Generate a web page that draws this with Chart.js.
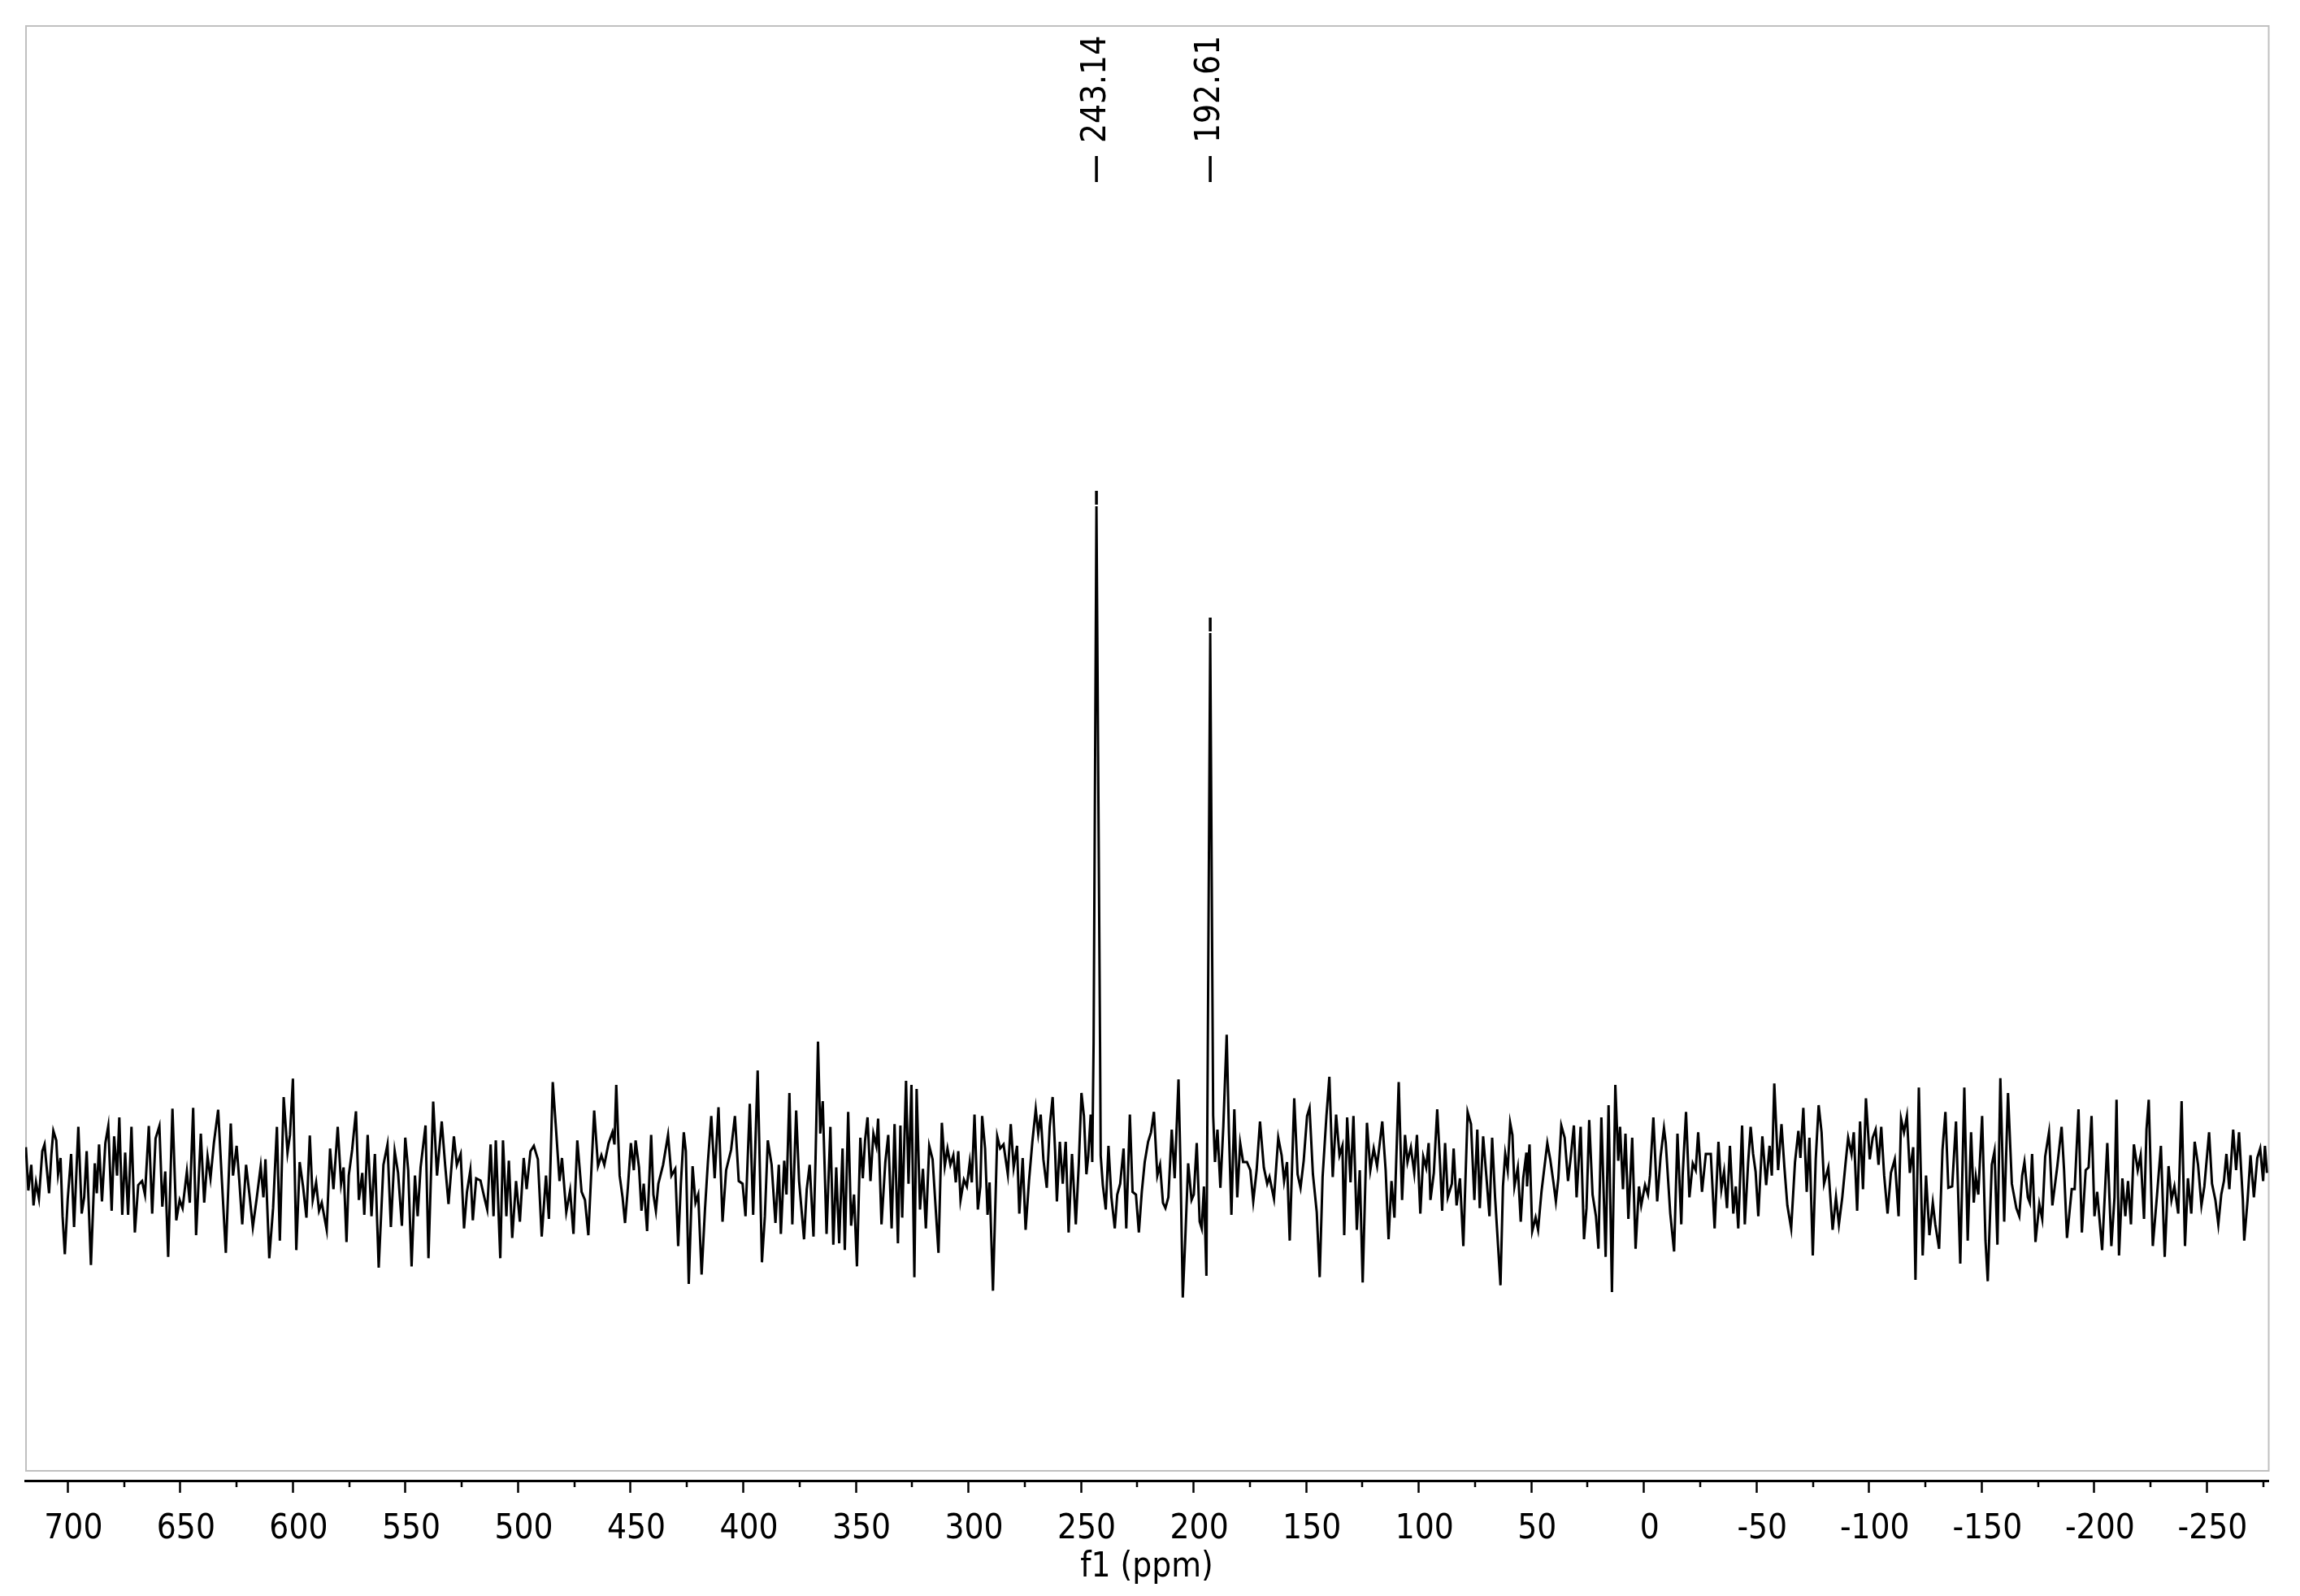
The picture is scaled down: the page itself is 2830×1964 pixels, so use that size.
<!DOCTYPE html>
<html>
<head>
<meta charset="utf-8">
<title>f1 spectrum</title>
<script src="https://cdn.jsdelivr.net/npm/chart.js@4.4.1/dist/chart.umd.min.js"></script>
<style>
  html, body { margin: 0; padding: 0; background: #fff; }
  canvas { display: block; }
</style>
</head>
<body>
<canvas id="spectrum" width="2830" height="1964" style="width:2830px;height:1964px"></canvas>
<script>
// chemical shift (ppm) and intensity (arbitrary units)
const shiftPpm = [
  718.6, 717.5, 716.2, 715.2, 714.1, 712.8, 711.3, 710.3, 709.2, 708.3,
  707.3, 706.4, 705.1, 704.3, 703.2, 702.3, 701.3, 700.0, 698.5, 697.2,
  695.3, 693.8, 692.7, 691.6, 691.0, 689.7, 688.0, 687.1, 686.1, 684.8,
  683.3, 682.0, 680.5, 679.4, 678.1, 677.1, 675.8, 674.5, 673.2, 671.7,
  670.2, 668.7, 667.0, 665.7, 664.0, 662.5, 661.0, 659.3, 658.0, 656.7,
  655.4, 653.5, 651.8, 650.3, 649.0, 647.1, 645.8, 644.3, 643.0, 640.9,
  639.4, 637.9, 636.6, 635.1, 633.2, 631.5, 629.8, 627.6, 626.6, 625.0,
  623.8, 622.5, 620.8, 619.3, 617.8, 616.1, 614.3, 613.1, 612.2, 610.5,
  608.8, 607.1, 605.8, 604.1, 602.4, 601.3, 600.0, 598.5, 597.0, 595.5,
  594.0, 592.5, 591.2, 589.7, 588.4, 587.2, 585.0, 583.5, 582.0, 580.1,
  578.6, 577.5, 576.2, 575.2, 573.7, 572.0, 570.7, 569.2, 568.3, 566.8,
  565.1, 563.6, 561.9, 559.8, 558.0, 556.5, 554.8, 553.3, 551.6, 550.1,
  548.8, 547.3, 545.8, 544.6, 543.3, 541.1, 539.8, 537.7, 536.0, 533.9,
  532.4, 530.9, 528.5, 527.2, 525.5, 524.0, 522.7, 521.2, 520.1, 518.6,
  516.7, 515.0, 513.7, 512.2, 510.9, 509.9, 507.9, 506.7, 505.2, 504.1,
  502.6, 500.9, 499.2, 497.5, 496.2, 494.5, 493.0, 491.2, 489.5, 487.6,
  486.3, 484.6, 483.3, 481.6, 480.5, 478.6, 476.9, 475.4, 473.7, 471.8,
  470.3, 468.8, 466.2, 464.5, 463.0, 461.7, 459.8, 458.1, 457.2, 456.4,
  454.9, 453.6, 452.5, 451.2, 449.9, 448.6, 447.8, 446.3, 445.2, 444.2,
  442.7, 440.9, 439.9, 438.8, 437.7, 435.6, 433.4, 431.9, 430.2, 428.9,
  427.7, 426.4, 425.5, 424.2, 422.5, 421.2, 420.0, 418.5, 417.0, 415.7,
  414.2, 412.7, 411.0, 409.2, 407.6, 405.4, 403.7, 402.0, 400.3, 399.0,
  397.1, 395.6, 393.6, 391.7, 390.4, 389.1, 387.4, 385.7, 384.2,
  383.3, 381.8, 380.8, 379.5, 378.2, 376.5, 375.2, 373.0, 371.8, 370.5,
  368.8, 367.9, 366.8, 365.8, 364.7, 363.0, 361.3, 360.0, 358.7, 357.4,
  355.9, 354.9, 353.4, 352.1, 350.8, 349.5, 348.0, 346.9, 345.9, 344.8,
  343.5, 342.2, 340.9, 340.1, 338.6, 336.9, 335.6, 334.1, 332.8, 331.3,
  330.2, 329.4, 327.7, 326.6, 325.3, 324.0, 323.0, 321.5, 320.2, 318.9,
  317.4, 315.9, 313.3, 311.8, 310.5, 309.3, 308.0, 306.7, 305.6, 304.5,
  303.5, 302.0, 300.7, 299.4, 298.5, 297.3, 295.8, 294.7, 293.9, 292.6,
  291.5, 290.6, 289.1, 287.2, 285.9, 284.4, 282.5, 281.2, 279.9, 278.4,
  277.4, 275.9, 274.6, 273.1, 271.6, 270.1, 269.0, 267.9, 266.7, 265.2,
  263.9, 262.6, 261.5, 260.7, 259.4, 258.1, 256.8, 255.5, 254.0, 252.3,
  251.0, 249.8, 248.7, 247.6, 246.8, 245.7, 245.0, 244.4, 243.14, 241.55,
  241.25, 240.3, 239.0, 237.8, 236.5, 235.0, 233.9, 232.6, 231.1, 229.9,
  228.3, 227.1, 225.6, 224.3, 223.0, 221.7, 220.2, 218.9, 217.6, 216.1,
  214.9, 213.6, 212.5, 211.2, 209.7, 208.4, 206.7, 205.9, 204.8, 203.7,
  202.4, 200.9, 199.9, 198.6, 197.3, 196.4, 195.4, 194.3, 193.7, 192.61,
  191.3, 190.5, 189.4, 188.1, 186.8, 185.3, 184.3, 183.2, 181.9, 180.6,
  179.3, 178.0, 176.3, 174.8, 173.5, 172.0, 170.5, 168.8, 167.3, 166.3,
  164.3, 162.4, 160.9, 159.8, 158.5, 157.3, 155.3, 153.8, 152.5, 151.1,
  149.6, 148.5, 147.0, 145.3, 144.0, 142.7, 141.0, 139.7, 138.2, 136.7,
  135.2, 133.9, 133.1, 131.8, 130.3, 129.0, 127.5, 126.2, 124.9, 123.0,
  121.5, 120.0, 118.5, 116.2, 114.7, 113.4, 112.1, 110.8, 108.9, 107.4,
  106.1, 105.0, 103.5, 102.0, 100.8, 99.3, 98.0, 96.7, 95.6, 94.8,
  93.3, 91.8, 90.5, 89.6, 88.3, 87.1, 85.3, 84.5, 83.2, 81.7,
  80.2, 78.3, 76.8, 75.3, 74.0, 72.9, 71.4, 69.9, 68.6, 67.4,
  66.1, 63.7, 62.6, 61.6, 60.5, 59.4, 58.4, 57.5, 56.0, 54.7,
  53.6, 52.2,
  51.9, 50.8, 49.6, 48.1, 47.0, 45.5, 42.9, 41.6, 40.1, 39.1,
  38.0, 36.7, 35.2, 33.7, 32.6, 31.1, 29.9, 28.1, 26.6, 25.5,
  24.3, 22.8, 21.3, 20.2, 18.9, 17.0, 15.7, 14.2, 12.7, 11.4,
  10.6, 9.3, 8.2, 6.9, 5.2, 3.7, 2.2, 1.2, -0.5, -1.8,
  -2.7, -4.2, -5.9, -7.4, -8.9, -9.7, -11.7, -13.4, -14.9, -16.6,
  -17.2, -18.7, -20.2, -21.7, -23.0, -24.1, -25.8, -27.5, -29.7, -31.4,
  -33.1, -34.4, -35.6, -36.9, -38.2, -39.7, -40.8, -41.9, -43.6, -44.8,
  -46.3, -47.4, -48.5, -49.6, -50.8, -52.6, -54.3, -55.8, -56.8, -57.9,
  -59.6, -61.1, -62.4, -63.7, -65.4, -67.1, -68.6, -69.5, -70.8, -72.3,
  -73.5, -75.0, -76.3, -77.6, -78.9, -80.0, -81.9, -83.8, -85.3, -86.6,
  -88.1, -89.6, -90.7, -92.2, -93.2, -94.7, -96.0, -97.3, -98.6, -100.3,
  -101.6, -102.9, -104.2, -105.4, -106.7, -108.2, -109.7, -111.4, -113.1, -114.2,
  -115.5, -116.8, -118.1, -119.6, -120.6, -122.1, -123.8, -125.3, -126.8, -128.3,
  -129.4, -131.1, -132.6, -133.9, -135.2, -136.9, -138.6, -140.5, -142.3, -143.8,
  -145.3, -146.5, -147.4, -148.5, -150.2, -151.7, -152.7, -154.5, -155.7, -157.0,
  -158.3, -160.0, -161.7, -163.4, -165.4, -166.7, -168.0, -169.0, -170.5, -171.4,
  -172.4, -173.9, -175.6, -176.9, -178.2, -179.9, -181.4, -183.6, -185.5, -186.6,
  -187.9, -190.0, -191.3, -193.0, -194.5, -196.2, -197.5, -198.8, -200.1, -201.3,
  -203.5, -205.8, -207.6, -209.0, -209.9, -211.0, -212.5, -213.8, -215.0, -216.3,
  -217.6, -219.3, -220.6, -222.1, -223.2, -224.2, -226.0, -227.9, -229.6, -231.3,
  -233.0, -234.3, -235.6, -237.3, -238.8, -240.3, -241.6, -243.1, -244.6, -246.1,
  -247.6, -248.9, -251.0, -252.3, -253.8, -255.1, -256.4, -257.6, -258.7, -260.0,
  -261.7, -263.0, -264.3, -266.0, -266.6, -268.1, -269.4, -270.9, -272.4, -273.7,
  -275.0, -275.8, -276.7
];

const intensity = [
  85, -75, 20, -130, -45, -105, 70, 95, -5, -85,
  55, 145, 110, -15, 45, -170, -310, -105, 60, -210,
  160, -160, -100, 70, -60, -350, 25, -85, 95, -115,
  100, 163, -150, 125, -20, 195, -165, 65, -165, 160,
  -230, -55, -40, -90, 163, -160, 117, 163, -135, -5,
  -320, 227, -185, -110, -140, -5, -120, 230, -240, 135,
  -120, 50, -30, 100, 223, -45, -305, 172, -20, 90,
  -40, -200, 20, -90, -210, -105, 15, -100, 40, -325,
  -140, 160, -260, 270, 65, 130, 338, -295, 30, -60,
  -175, 128, -110, -45, -150, -120, -220, 80, -70, 160,
  -50, 10, -265, -20, 75, 217, -110, -10, -165, 130,
  -170, 60, -360, 20, 95, -210, 70, -10, -205, 120,
  0, -355, -20, -170, 10, 165, -325, 253, -20, 180,
  20, -125, 125, 20, 60, -215, -80, 0, -185, -30,
  -38, -100, -145, 95, -170, 110, -325, 110, -170, 35,
  -250, -40, -190, 45, -70, 70, 90, 40, -245, -20,
  -180, 325, 170, -40, 45, -155, -75, -235, 110, -80,
  -110, -240, 220, 15, 55, 20, 100, 140, 95, 315,
  -20, -100, -195, -60, 100, 0, 110, 10, -150, -50,
  -225, 130, -90, -150, -50, 20, 130, -20, 5, -280,
  -50, 140, 70, -420, 15, -120, -90, -385, -145, 30,
  200, -30, 232, -190, 0, 75, 200, -40, -50, -170,
  245, -165, 368, -340, -170, 110, 20, -195, 20,
  -235, 35, -90, 285, -200, 220, -40, -255, -70, 20,
  -245, 40, 475, 135, 255, -235, 160, -275, 10, -270,
  80, -295, 215, -205, -90, -355, 120, -30, 110, 195,
  -40, 135, 90, 190, -200, 30, 130, -215, 170, -270,
  165, -175, 330, -50, 315, -395, 300, -145, 5, -215,
  90, 40, -305, 175, 15, 80, 20, 55, -45, 70,
  -110, -35, -60, 30, -45, 205, -145, -60, 200, 80,
  -165, -45, -445, 125, 80, 95, -15, 170, 10, 90,
  -160, 45, -220, -40, 105, 225, 135, 205, 40, -65,
  160, 270, 70, -115, 105, -50, 105, -230, 60, -200,
  20, 285, 200, -15, 50, 205, 30, 471, 2451, 480,
  54, -55, -145, 90, -100, -215, -90, -50, 80, -215,
  205, -80, -90, -230, -80, 30, 105, 140, 215, -20,
  20, -120, -140, -100, 150, -30, 335, 50, -470, -255,
  25, -110, -90, 100, -190, -215, -60, -390, 429, 1983,
  201, 30, 150, -65, 160, 500, 140, -165, 225, -100,
  100, 30, 30, 0, -115, 0, 180, 10, -50, -25,
  -105, 120, 55, -40, 30, -260, 265, -15, -65, 35,
  200, 230, -15, -155, -395, -25, 200, 345, -25, 205,
  55, 90, -240, 195, -45, 200, -220, 0, -415, 175,
  0, 80, 15, 180, 0, -255, -40, -175, 325, -110,
  130, 30, 85, -10, 130, -160, 50, 10, 100, -110,
  -10, 225, 20, -150, 100, -100, -50, 80, -130, -30,
  -280, 215, 170, -110, 150, -140, 125, -30, -170, 120,
  -100, -425, -60, 60, 0, 175, 130, -60, 10, -190,
  -30, 65,
  -60, 95, -225, -175, -220, -80, 100, 40, -50, -115,
  -30, 165, 120, -40, 40, 165, -100, 160, -255, -140,
  185, -90, -170, -290, 195, -320, 240, -450, 315, 35,
  160, -70, 135, -180, 120, -290, -60, -130, -55, -90,
  -20, 195, -115, 50, 155, 100, -160, -300, 135, -200,
  -20, 215, -100, 25, 0, 140, -80, 60, 60, -215,
  105, -70, -5, -140, 90, -160, -60, -215, 165, -200,
  30, 160, 60, -5, -170, 125, -55, 90, -20, 320,
  0, 170, 10, -130, -215, 30, 145, 45, 230, -80,
  120, -315, 40, 240, 140, -50, 10, -220, -100, -200,
  -100, 30, 120, 60, 140, -150, 180, -70, 265, 40,
  120, 150, 20, 160, -20, -160, -10, 40, -170, 190,
  140, 200, -10, 85, -405, 305, -315, -20, -240, -120,
  -200, -290, 75, 215, -65, -60, 180, -345, 305, -260,
  140, -120, -25, -90, 200, -260, -410, 20, 70, -275,
  340, -190, 285, -50, -140, -170, -20, 30, -100, -120,
  60, -265, -125, -180, 50, 140, -130, 15, 160, 0,
  -250, -70, -70, 225, -230, 0, 10, 200, -170, -80,
  -295, 100, -280, -100, 260, -315, -30, -170, -40, -200,
  95, 0, 55, -180, 150, 260, -280, -90, 90, -320,
  15, -110, -60, -160, 255, -280, -30, -160, 105, 20,
  -130, -60, 140, -50, -110, -200, -90, -40, 60, -70,
  150, 0, 140, -110, -260, -110, 55, -100, 45, 80,
  -40, 90, -10
];

// picked peaks
const peakPpm = [243.14, 192.61];
const peakLabels = ['243.14', '192.61'];

// axis ticks (ppm)
const majorTicks = [700, 650, 600, 550, 500, 450, 400, 350, 300, 250, 200, 150, 100, 50, 0,
  -50, -100, -150, -200, -250];
const minorTicks = [675, 625, 575, 525, 475, 425, 375, 325, 275, 225, 175, 125, 75, 25,
  -25, -75, -125, -175, -225, -275];

// axis limits
const ppmMin = -277.3, ppmMax = 718.9;
const intMin = -1146, intMax = 4224;

const FONT = "'DejaVu Sans Condensed', 'DejaVu Sans', sans-serif";

const spectrumMarks = {
  id: 'spectrumMarks',
  beforeDatasetsDraw(chart) {
    const { ctx, chartArea: { left, right, top, bottom } } = chart;
    // light grey frame round the spectrum
    ctx.save();
    ctx.strokeStyle = '#c0c0c0';
    ctx.lineWidth = 2;
    ctx.strokeRect(left + 1, top, right - left - 0.5, bottom - top - 12);
    ctx.restore();
  },
  afterDraw(chart) {
    const { ctx, chartArea: { top, bottom }, scales: { x, y } } = chart;
    ctx.save();
    ctx.strokeStyle = '#000';
    ctx.fillStyle = '#000';

    // minor ticks
    ctx.lineWidth = 2.5;
    minorTicks.forEach(v => {
      const px = Math.round(x.getPixelForValue(v));
      ctx.beginPath();
      ctx.moveTo(px, bottom);
      ctx.lineTo(px, bottom + 8);
      ctx.stroke();
    });

    // peak labels
    ctx.font = `42px ${FONT}`;
    peakPpm.forEach((ppm, i) => {
      const px = x.getPixelForValue(ppm);
      const tip = y.getPixelForValue(intensity[shiftPpm.indexOf(ppm)]);
      ctx.lineWidth = 3.5;
      ctx.beginPath();
      ctx.moveTo(px, top + 160);
      ctx.lineTo(px, top + 192);
      ctx.stroke();
      // small marker above the peak top
      ctx.beginPath();
      ctx.moveTo(px, tip - 19);
      ctx.lineTo(px, tip - 2);
      ctx.stroke();

      ctx.save();
      ctx.translate(px + 11, top + 144);
      ctx.rotate(-Math.PI / 2);
      ctx.textAlign = 'left';
      ctx.textBaseline = 'alphabetic';
      ctx.fillText(peakLabels[i], 0, 0);
      ctx.restore();
    });
    ctx.restore();
  }
};

new Chart(document.getElementById('spectrum'), {
  type: 'line',
  data: {
    datasets: [{
      data: shiftPpm.map((v, i) => ({ x: v, y: intensity[i] })),
      borderColor: '#000',
      borderWidth: 3,
      pointRadius: 0,
      tension: 0,
      fill: false
    }]
  },
  options: {
    responsive: false,
    devicePixelRatio: 1,
    animation: false,
    parsing: false,
    layout: { padding: { left: 31, right: 39, top: 32, bottom: 0 } },
    plugins: {
      legend: { display: false },
      tooltip: { enabled: false }
    },
    scales: {
      x: {
        type: 'linear',
        reverse: true,
        min: ppmMin,
        max: ppmMax,
        afterBuildTicks(scale) {
          scale.ticks = majorTicks.map(v => ({ value: v }));
        },
        afterFit(scale) {
          scale.height = 142;
        },
        border: { display: true, color: '#000', width: 3 },
        grid: {
          display: true,
          drawOnChartArea: false,
          drawTicks: true,
          tickLength: 15,
          tickWidth: 2.5,
          tickColor: '#000'
        },
        ticks: {
          autoSkip: false,
          maxRotation: 0,
          padding: 20,
          labelOffset: 7,
          color: '#000',
          font: { family: FONT, size: 42 },
          callback: v => String(v)
        },
        title: {
          display: true,
          text: 'f1 (ppm)',
          color: '#000',
          font: { family: FONT, size: 42 },
          padding: { top: 0, bottom: 10 }
        }
      },
      y: {
        display: false,
        min: intMin,
        max: intMax
      }
    }
  },
  plugins: [spectrumMarks]
});
</script>
</body>
</html>
